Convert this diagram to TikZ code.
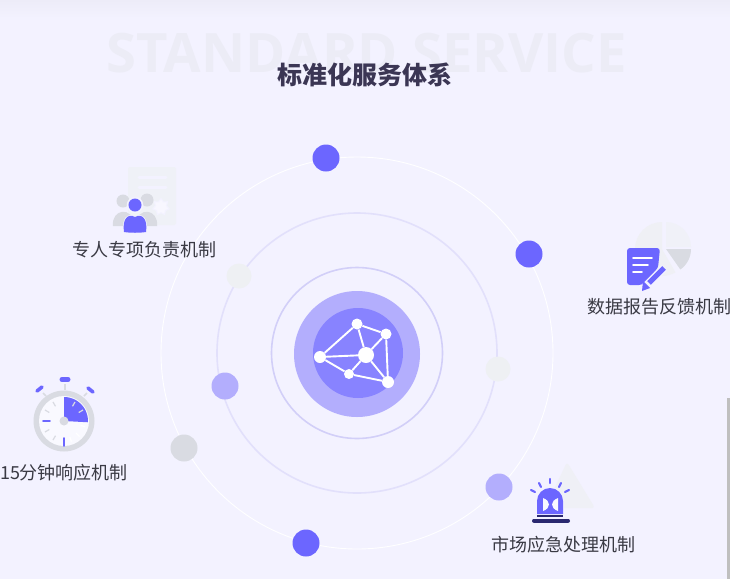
\documentclass[tikz,border=0pt]{standalone}
\usepackage{fontspec}
\usetikzlibrary{shapes.geometric}
\newfontfamily\cjk{Noto Sans CJK SC}
\newfontfamily\wmfont{Open Sans}
\definecolor{bgc}{HTML}{F3F2FF}
\definecolor{bandc}{HTML}{EDECF8}
\definecolor{wmc}{HTML}{ECECF6}
\definecolor{titlec}{HTML}{3B3654}
\definecolor{labc}{HTML}{3A3A44}
\definecolor{mainc}{HTML}{6C66FF}
\definecolor{softc}{HTML}{B3AEFD}
\definecolor{corec}{HTML}{8883FF}
\definecolor{ring2}{HTML}{E2E0FB}
\definecolor{ring3}{HTML}{D2CFF8}
\definecolor{pale}{HTML}{EEF0F3}
\definecolor{greyc}{HTML}{D9DBE2}
\definecolor{navyc}{HTML}{2A2870}
\begin{document}
\begin{tikzpicture}[x=1pt,y=-1pt]
\tikzstyle{dot} = [circle,inner sep=0pt,minimum size=27pt]
\tikzstyle{vert} = [circle,fill=white,inner sep=0pt]
\tikzstyle{link} = [draw=white,line width=1.9pt]
\tikzstyle{lab} = [font=\cjk\fontsize{18}{20}\selectfont,text=labc,inner sep=0pt]
\tikzstyle{tick} = [mainc,line width=2.4pt,line cap=round]
\useasboundingbox (0,0) rectangle (730,579);
\fill[bgc] (0,0) rectangle (730,579);
\shade[top color=bandc,bottom color=bgc] (0,0) rectangle (730,18);
\fill[gray!50] (727,398) rectangle (730,579);
\node[font=\wmfont\bfseries\fontsize{54.3}{60}\selectfont,text=wmc,inner sep=0pt] (wm) at (366.5,53) {STANDARD SERVICE};
\node[font=\cjk\bfseries\fontsize{25}{28}\selectfont,text=titlec,inner sep=0pt] (title) at (365,75) {标准化服务体系};
\draw[white,line width=0.9pt] (357,353) circle (196);
\draw[ring2,line width=1.6pt] (357,353) circle (140);
\draw[ring3,line width=1.6pt] (357,353) circle (85.5);
\fill[softc] (357,354) circle (63);
\fill[corec] (358,353) circle (45);
\node[vert,minimum size=11pt] (v1) at (357,324) {};
\node[vert,minimum size=11pt] (v2) at (386,334) {};
\node[vert,minimum size=16pt] (v3) at (366,355) {};
\node[vert,minimum size=12pt] (v4) at (320,357) {};
\node[vert,minimum size=10pt] (v5) at (349,374) {};
\node[vert,minimum size=12pt] (v6) at (388,382) {};
\draw[link] (v1) -- (v2);
\draw[link] (v1) -- (v4);
\draw[link] (v1) -- (v3);
\draw[link] (v2) -- (v3);
\draw[link] (v2) -- (v6);
\draw[link] (v4) -- (v3);
\draw[link] (v4) -- (v5);
\draw[link] (v5) -- (v3);
\draw[link] (v5) -- (v6);
\draw[link] (v3) -- (v6);
\node[dot,fill=mainc] (d1) at (326,158) {};
\node[dot,fill=mainc] (d2) at (529,254) {};
\node[dot,fill=mainc] (d3) at (306,543) {};
\node[dot,fill=softc] (d4) at (499,487) {};
\node[dot,fill=softc] (d5) at (225,386) {};
\node[dot,fill=pale,minimum size=25pt] (d6) at (239,276) {};
\node[dot,fill=pale,minimum size=25pt] (d7) at (498,369) {};
\node[dot,fill=greyc] (d8) at (184,448) {};
\fill[pale!70!bgc,rounded corners=2pt] (128,167) rectangle (176,225);
\draw[bgc,line width=3pt,line cap=round] (139,177) -- (166,177);
\draw[bgc,line width=3pt,line cap=round] (139,187) -- (166,187);
\node[star,star points=7,draw=bgc,fill=white!40!bgc,line width=1pt,inner sep=0pt,minimum size=17pt] (seal) at (161,207) {};
\fill[greyc] (123,201) circle (6.5);
\fill[greyc] (147,200) circle (6.5);
\fill[greyc] (113,226) .. controls (111,209) and (133,205) .. (135,226) -- cycle;
\fill[greyc] (135,226) .. controls (137,205) and (159,209) .. (157,226) -- cycle;
\draw[bgc,line width=1.5pt] (135,205) circle (7.5);
\fill[mainc] (135,205) circle (6.5);
\draw[bgc,line width=1.5pt] (124,232) .. controls (122,219) and (128,213) .. (135,217) .. controls (142,213) and (148,219) .. (146,232);
\fill[mainc] (124,232) .. controls (122,219) and (128,213) .. (135,217) .. controls (142,213) and (148,219) .. (146,232) .. controls (140,233) and (130,233) .. (124,232) -- cycle;
\node[lab] (t1) at (144,249.5) {专人专项负责机制};
\fill[pale!80!bgc] (662,249) -- (662,222) arc (-90:-300:27) -- cycle;
\fill[pale!60!bgc] (666,247) -- (666,222) arc (-90:0:25) -- cycle;
\fill[greyc] (666,249) -- (691,249) arc (0:55:25) -- cycle;
\fill[mainc,rounded corners=3pt] (627,248) -- (660,248) -- (658,268) -- (642,285) -- (627,285) -- cycle;
\draw[white,line width=1.6pt,line cap=round] (633,258) -- (652,258);
\draw[white,line width=1.6pt,line cap=round] (633,265) -- (648,265);
\draw[white,line width=1.6pt,line cap=round] (633,272) -- (642,272);
\draw[bgc,line width=8pt] (664,268) -- (645,287);
\draw[mainc,line width=5pt] (664,268) -- (649,283);
\fill[mainc] (643,281) -- (650,288) -- (642,291) -- cycle;
\node[lab] (t2) at (659,306.5) {数据报告反馈机制};
\fill[greyc] (64,421) circle (30.5);
\fill[white!50!bgc] (64,421) circle (25);
\fill[mainc] (64,421) -- (64,397) arc (-90:3:24) -- cycle;
\fill[greyc] (64,421) circle (4.5);
\foreach \a in {120,150,210,240,300,330}
  \draw[greyc,line width=1.2pt] (64,421) ++(\a:17) -- ++(\a:5);
\draw[tick,line width=1.6pt] (43,421) -- (50,421);
\draw[tick,line width=1.6pt] (64,438) -- (64,446);
\foreach \a in {15,45,70}
  \draw[white,line width=1.2pt] (64,421) ++(\a:17) -- ++(\a:5);
\draw[greyc,line width=1.5pt] (65,384) -- (65,390);
\draw[greyc,line width=1.5pt] (43,393) -- (46,396);
\draw[greyc,line width=1.5pt] (87,393) -- (84,396);
\draw[mainc,line width=5pt,line cap=round] (62,379.5) -- (68,379.5);
\draw[tick,line width=3.6pt] (37,391) -- (42,387);
\draw[tick,line width=3.6pt] (88,388) -- (93,392);
\node[lab] (t3) at (64,472.5) {15分钟响应机制};
\fill[pale!75!bgc,rounded corners=3pt] (567,462) -- (595,508) -- (545,508) -- cycle;
\draw[bgc,line width=1.5pt] (537,514) -- (537,501) arc (-180:0:13) -- (563,514);
\fill[mainc] (537,514) -- (537,501) arc (-180:0:13) -- (563,514) -- cycle;
\fill[white!50!bgc] (543,498) .. controls (551,501) and (551,508) .. (543,511) -- cycle;
\fill[white!50!bgc] (558,498) .. controls (550,501) and (550,508) .. (558,511) -- cycle;
\draw[navyc,line width=4pt,line cap=round] (534,520.5) -- (568,520.5);
\draw[navyc,line width=2pt] (537,516) -- (563,516);
\draw[tick,line width=2.2pt] (550,479) -- (550,483);
\draw[tick,line width=2.2pt] (539,483) -- (541,487);
\draw[tick,line width=2.2pt] (561,483) -- (559,487);
\draw[tick,line width=2.2pt] (531,490) -- (535,492);
\draw[tick,line width=2.2pt] (569,490) -- (565,492);
\node[lab] (t4) at (563,544.5) {市场应急处理机制};
\end{tikzpicture}
\end{document}
